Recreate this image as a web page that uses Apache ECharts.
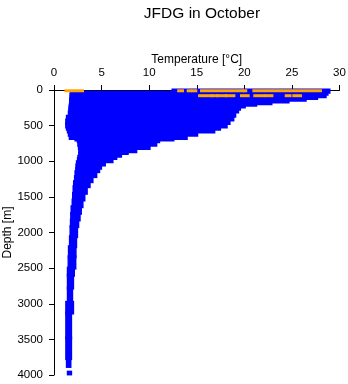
<!DOCTYPE html>
<html><head><meta charset="utf-8">
<script src="https://cdn.jsdelivr.net/npm/echarts@6/dist/echarts.min.js"></script>
<style>html,body{margin:0;padding:0;background:#fff}#c{width:348px;height:384px}</style>
</head><body><div id="c"></div>
<script>
// Axis ticks
const xTicks = [0, 5, 10, 15, 20, 25, 30];
const yTicks = [0, 500, 1000, 1500, 2000, 2500, 3000, 3500, 4000];

// Blue observations: envelope of the point cloud per depth band (m, °C)
const blueDepthTop    = [0, 30, 60, 95, 120, 145, 168, 192, 215, 240, 270, 310, 370, 420, 470, 520, 550, 590, 635, 680, 700, 725, 775, 820, 866, 890, 930, 960, 1006, 1053, 1099, 1146, 1216, 1287, 1357, 1450, 1544, 1638, 1731, 1825, 1918, 2059, 2199, 2340, 2500, 2600, 2780, 2980, 3130, 3480, 3790, 3960];
const blueDepthBottom = [30, 60, 95, 120, 145, 168, 192, 215, 240, 270, 310, 370, 420, 470, 520, 550, 590, 635, 680, 700, 725, 775, 820, 866, 890, 930, 960, 1006, 1053, 1099, 1146, 1216, 1287, 1357, 1450, 1544, 1638, 1731, 1825, 1918, 2059, 2199, 2340, 2500, 2600, 2780, 2980, 3130, 3480, 3770, 3880, 3985];
const blueTMin = [12.5, 1.8, 1.79, 1.79, 1.75, 1.75, 1.75, 1.72, 1.7, 1.68, 1.65, 1.6, 1.4, 1.33, 1.33, 1.4, 1.5, 1.6, 1.7, 2.3, 2.55, 2.6, 2.66, 2.7, 2.73, 2.7, 2.6, 2.56, 2.45, 2.4, 2.38, 2.3, 2.25, 2.15, 2.1, 2.05, 2.0, 1.89, 1.85, 1.82, 1.78, 1.72, 1.61, 1.58, 1.5, 1.5, 1.5, 1.33, 1.33, 1.33, 1.4, 1.5];
const blueTMax = [28.9, 28.7, 28.5, 27.6, 26.4, 24.6, 22.8, 21.2, 20.0, 19.5, 19.3, 19.0, 18.8, 18.4, 18.1, 17.4, 16.8, 15.0, 13.9, 12.5, 11.0, 10.7, 10.0, 8.6, 7.7, 7.0, 6.5, 6.1, 5.3, 4.9, 4.7, 4.4, 4.0, 3.7, 3.4, 3.15, 2.95, 2.78, 2.65, 2.5, 2.38, 2.28, 2.22, 2.2, 2.05, 1.96, 1.86, 1.96, 1.75, 1.75, 1.68, 1.75];

// Orange observations: runs of points at a given depth (°C, m)
const orangeTStart = [1.26, 13.1, 14.1, 14.6, 15.5, 20.0, 21.0, 15.3, 16.7, 17.2, 18.1, 19.7, 21.1, 22.3, 24.4, 25.2];
const orangeTEnd   = [3.0, 13.5, 14.35, 14.9, 19.8, 20.15, 28.0, 16.6, 17.1, 18.0, 18.9, 20.4, 22.1, 22.9, 24.8, 25.9];
const orangeDepth  = [11, 11, 11, 11, 11, 11, 11, 80, 80, 80, 80, 80, 80, 80, 80, 80];

const blueData = blueDepthTop.map((d, i) => [blueTMin[i], blueTMax[i], d, blueDepthBottom[i]]);
const orangeData = orangeDepth.map((d, i) => [orangeTStart[i], orangeTEnd[i], d]);

const FONT = 'Liberation Sans';
const chart = echarts.init(document.getElementById('c'), null, {renderer: 'canvas'});
chart.setOption({
  backgroundColor: '#ffffff',
  animation: false,
  title: {
    text: 'JFDG in October', left: 197, top: 1, textAlign: 'center',
    textStyle: {fontFamily: FONT, fontSize: 15.5, fontWeight: 'normal', color: '#000'}
  },
  grid: {left: 54, right: 8.5, top: 90, bottom: 9, containLabel: false, outerBoundsMode: 'none'},
  xAxis: {
    type: 'value', position: 'top', min: xTicks[0], max: xTicks[xTicks.length - 1], interval: 5,
    name: 'Temperature [°C]', nameLocation: 'middle', nameGap: 24, nameMoveOverlap: false,
    nameTextStyle: {fontFamily: FONT, fontSize: 12, color: '#000'},
    axisLine: {show: true, onZero: false, lineStyle: {color: '#000', width: 1}},
    axisTick: {show: true, length: 5, lineStyle: {color: '#000'}},
    axisLabel: {fontFamily: FONT, fontSize: 11.5, color: '#000', margin: 11, formatter: v => String(v)},
    splitLine: {show: false}
  },
  yAxis: {
    type: 'value', inverse: true, min: yTicks[0], max: yTicks[yTicks.length - 1], interval: 500,
    name: 'Depth [m]', nameLocation: 'middle', nameGap: 40, nameRotate: 90, nameMoveOverlap: false,
    nameTextStyle: {fontFamily: FONT, fontSize: 12, color: '#000'},
    axisLine: {show: true, onZero: false, lineStyle: {color: '#000', width: 1}},
    axisTick: {show: true, length: 5, lineStyle: {color: '#000'}},
    axisLabel: {fontFamily: FONT, fontSize: 11.5, color: '#000', margin: 11, formatter: v => String(v)},
    splitLine: {show: false}
  },
  series: [
    {
      type: 'custom', clip: false, data: blueData, encode: {x: [0, 1], y: [2, 3]},
      renderItem: function (params, api) {
        const p1 = api.coord([api.value(0), api.value(2)]);
        const p2 = api.coord([api.value(1), api.value(3)]);
        const pad = 1.5;
        return {type: 'rect', shape: {x: p1[0] - pad, y: p1[1] - pad, width: p2[0] - p1[0] + 2 * pad, height: p2[1] - p1[1] + 2 * pad}, style: {fill: '#0000ff'}};
      }
    },
    {
      type: 'custom', clip: false, data: orangeData, encode: {x: [0, 1], y: 2}, z: 3,
      renderItem: function (params, api) {
        const p1 = api.coord([api.value(0), api.value(2)]);
        const p2 = api.coord([api.value(1), api.value(2)]);
        const pad = 1.5;
        return {type: 'rect', shape: {x: p1[0] - pad, y: p1[1] - pad, width: p2[0] - p1[0] + 2 * pad, height: 2 * pad}, style: {fill: '#ffa500'}};
      }
    }
  ]
});
</script></body></html>
